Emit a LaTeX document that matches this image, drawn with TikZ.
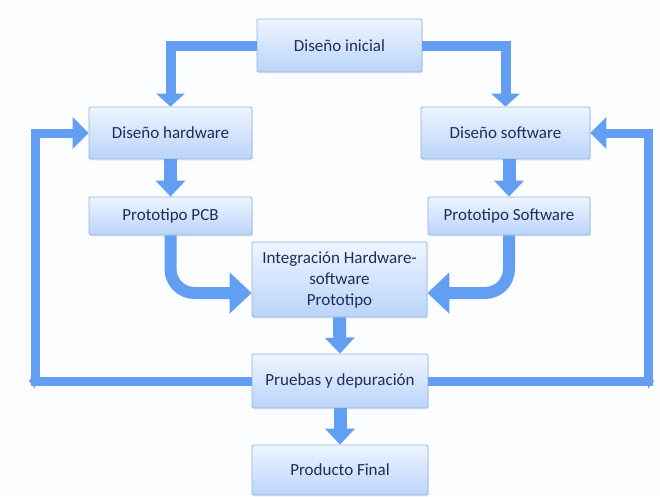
\documentclass[tikz,border=0pt]{standalone}
\usepackage{fontspec}
\setmainfont{Carlito}
\usetikzlibrary{arrows.meta,shadows}
\definecolor{boxtop}{RGB}{238,245,255}
\definecolor{boxbot}{RGB}{186,212,249}
\definecolor{boxline}{RGB}{148,180,228}
\definecolor{arrowblue}{RGB}{98,158,242}
\definecolor{txt}{RGB}{34,44,92}
\definecolor{bg}{RGB}{251,253,255}
\begin{document}
\begin{tikzpicture}[x=1pt,y=-1pt,
  box/.style={rectangle, draw=boxline, line width=0.8pt, top color=boxtop, bottom color=boxbot,
    rounded corners=1.5pt, inner sep=0pt, font=\fontsize{17}{21}\selectfont, text=txt, align=center,
    drop shadow={opacity=0.12, shadow xshift=1pt, shadow yshift=-1.5pt}},
  elbowarrow/.style={draw=arrowblue, line width=10pt, line join=miter, -{Triangle[width=28pt,length=13pt]}},
  mainarrow/.style={draw=arrowblue, line width=13pt, -{Triangle[width=29pt,length=16pt]}},
  curvearrow/.style={draw=arrowblue, line width=12pt, rounded corners=24pt, -{Triangle[width=40pt,length=22pt]}},
  loopline/.style={draw=arrowblue, line width=9pt, line join=miter, -{Triangle[width=31pt,length=16pt]}},
  smalltip/.style={draw=arrowblue, line width=9pt, -{Triangle[width=15pt,length=6pt]}}
]
\fill[bg] (0,0) rectangle (660,496);
\useasboundingbox (0,0) rectangle (660,496);

\node[box, minimum width=165pt, minimum height=53pt] (ini) at (339.5,45.5) {Diseño inicial};
\node[box, minimum width=163pt, minimum height=52pt] (hw)  at (170.5,133) {Diseño hardware};
\node[box, minimum width=169pt, minimum height=52pt] (sw)  at (505.5,133) {Diseño software};
\node[box, minimum width=163pt, minimum height=38pt] (pcb) at (170.5,216) {Prototipo PCB};
\node[box, minimum width=162pt, minimum height=38pt] (psw) at (509,216) {Prototipo Software};
\node[box, minimum width=175pt, minimum height=75pt] (int) at (339.5,279.5) {Integración Hardware-\\software\\Prototipo};
\node[box, minimum width=176pt, minimum height=54pt] (pru) at (340,381) {Pruebas y depuración};
\node[box, minimum width=176pt, minimum height=50pt] (fin) at (340,470) {Producto Final};

\coordinate (cl) at (35,385.5);
\coordinate (clt) at (29,381);
\coordinate (cr) at (648,385.5);
\coordinate (crt) at (654,381);

% top elbows
\draw[elbowarrow] (ini.west) -| (hw.north);
\draw[elbowarrow] (ini.east) -| (sw.north);
% straight arrows
\draw[mainarrow] (hw.south) -- (pcb.north);
\draw[mainarrow] (sw.south -| psw.north) -- (psw.north);
\draw[mainarrow] (int.south) -- (pru.north);
\draw[mainarrow] (pru.south) -- (fin.north);
% curved arrows into integration
\draw[curvearrow] (pcb.south) |- ([yshift=-13.5pt]int.west);
\draw[curvearrow] (psw.south) |- ([yshift=-13.5pt]int.east);
% feedback loops
\draw[draw=arrowblue, line width=9pt] (pru.west) -- (pru.west -| cl);
\draw[loopline] (cl) |- (hw.west);
\draw[smalltip] (pru.west -| cl) -- (clt);
\draw[draw=arrowblue, line width=9pt] (pru.east) -- (pru.east -| cr);
\draw[loopline] (cr) |- (sw.east);
\draw[smalltip] (pru.east -| cr) -- (crt);
\end{tikzpicture}
\end{document}
